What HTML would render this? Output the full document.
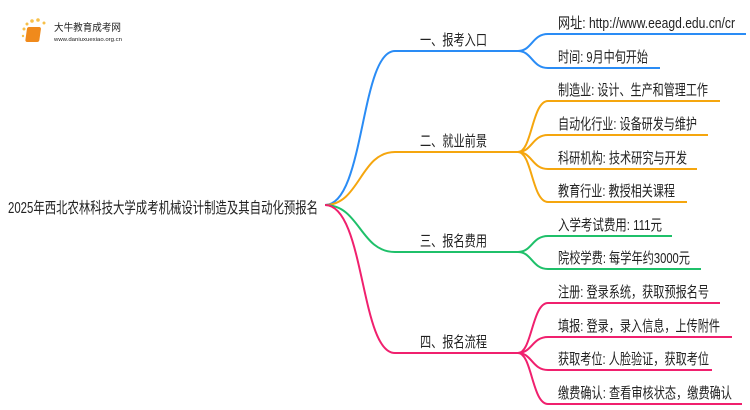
<!DOCTYPE html>
<html><head><meta charset="utf-8"><style>
html,body{margin:0;padding:0;background:#fff;}
svg{display:block;}
text{font-family:"Liberation Sans","Noto Sans CJK SC",sans-serif;fill:#222;}
</style></head><body>
<svg width="750" height="410" viewBox="0 0 750 410" xmlns="http://www.w3.org/2000/svg">
<g>
<circle cx="24" cy="29" r="1.5" fill="#f7c04a"/><circle cx="27" cy="24" r="1.5" fill="#f7c04a"/>
<circle cx="32" cy="21" r="1.8" fill="#f7c04a"/><circle cx="38" cy="20" r="1.8" fill="#f7c04a"/>
<circle cx="44" cy="23" r="1.5" fill="#f7c04a"/><circle cx="23" cy="36" r="1.2" fill="#f7c04a"/>
<rect x="31" y="27" width="14" height="15" rx="2" fill="#f08a1c" transform="skewX(-8)"/>
<text x="54" y="31" font-size="10" fill="#444" textLength="67" lengthAdjust="spacingAndGlyphs">大牛教育成考网</text>
<text x="54" y="41" font-size="5.5" fill="#666" textLength="68" lengthAdjust="spacingAndGlyphs">www.daniuxuexiao.org.cn</text>
</g>
<text x="8" y="213" font-size="15.5" textLength="310" lengthAdjust="spacingAndGlyphs">2025年西北农林科技大学成考机械设计制造及其自动化预报名</text>
<g fill="none" stroke-width="2">
<path d="M325 205 C365 205,360 51,395 51 L518 51" stroke="#2a8cf5"/>
<path d="M518 51 C532 51,532 34,548 34 L746 34" stroke="#2a8cf5"/>
<path d="M518 51 C532 51,532 68,548 68 L660 68" stroke="#2a8cf5"/>
<path d="M325 205 C360 205,360 152,395 152 L518 152" stroke="#f5a60e"/>
<path d="M518 152 C532 152,532 101,548 101 L720 101" stroke="#f5a60e"/>
<path d="M518 152 C532 152,532 135,548 135 L708 135" stroke="#f5a60e"/>
<path d="M518 152 C532 152,532 169,548 169 L697 169" stroke="#f5a60e"/>
<path d="M518 152 C532 152,532 202,548 202 L687 202" stroke="#f5a60e"/>
<path d="M325 205 C360 205,360 252,395 252 L518 252" stroke="#1fc06a"/>
<path d="M518 252 C532 252,532 236,548 236 L672 236" stroke="#1fc06a"/>
<path d="M518 252 C532 252,532 269,548 269 L701 269" stroke="#1fc06a"/>
<path d="M325 205 C365 205,360 353,395 353 L518 353" stroke="#f0206e"/>
<path d="M518 353 C532 353,532 303,548 303 L720 303" stroke="#f0206e"/>
<path d="M518 353 C532 353,532 337,548 337 L732 337" stroke="#f0206e"/>
<path d="M518 353 C532 353,532 370,548 370 L712 370" stroke="#f0206e"/>
<path d="M518 353 C532 353,532 404,548 404 L742 404" stroke="#f0206e"/>
</g>
<g font-size="15" lengthAdjust="spacingAndGlyphs">
<text x="420" y="45" textLength="67" lengthAdjust="spacingAndGlyphs">一、报考入口</text>
<text x="420" y="146" textLength="67" lengthAdjust="spacingAndGlyphs">二、就业前景</text>
<text x="420" y="246" textLength="67" lengthAdjust="spacingAndGlyphs">三、报名费用</text>
<text x="420" y="347" textLength="67" lengthAdjust="spacingAndGlyphs">四、报名流程</text>
<text x="558" y="28" textLength="177" lengthAdjust="spacingAndGlyphs">网址: http://www.eeagd.edu.cn/cr</text>
<text x="558" y="62" textLength="90" lengthAdjust="spacingAndGlyphs">时间: 9月中旬开始</text>
<text x="558" y="95" textLength="150" lengthAdjust="spacingAndGlyphs">制造业: 设计、生产和管理工作</text>
<text x="558" y="129" textLength="139" lengthAdjust="spacingAndGlyphs">自动化行业: 设备研发与维护</text>
<text x="558" y="163" textLength="129" lengthAdjust="spacingAndGlyphs">科研机构: 技术研究与开发</text>
<text x="558" y="196" textLength="117" lengthAdjust="spacingAndGlyphs">教育行业: 教授相关课程</text>
<text x="558" y="230" textLength="104" lengthAdjust="spacingAndGlyphs">入学考试费用: 111元</text>
<text x="558" y="263" textLength="132" lengthAdjust="spacingAndGlyphs">院校学费: 每学年约3000元</text>
<text x="558" y="297" textLength="151" lengthAdjust="spacingAndGlyphs">注册: 登录系统，获取预报名号</text>
<text x="558" y="331" textLength="162" lengthAdjust="spacingAndGlyphs">填报: 登录，录入信息，上传附件</text>
<text x="558" y="364" textLength="151" lengthAdjust="spacingAndGlyphs">获取考位: 人脸验证，获取考位</text>
<text x="558" y="398" textLength="174" lengthAdjust="spacingAndGlyphs">缴费确认: 查看审核状态，缴费确认</text>
</g>
</svg>
</body></html>
